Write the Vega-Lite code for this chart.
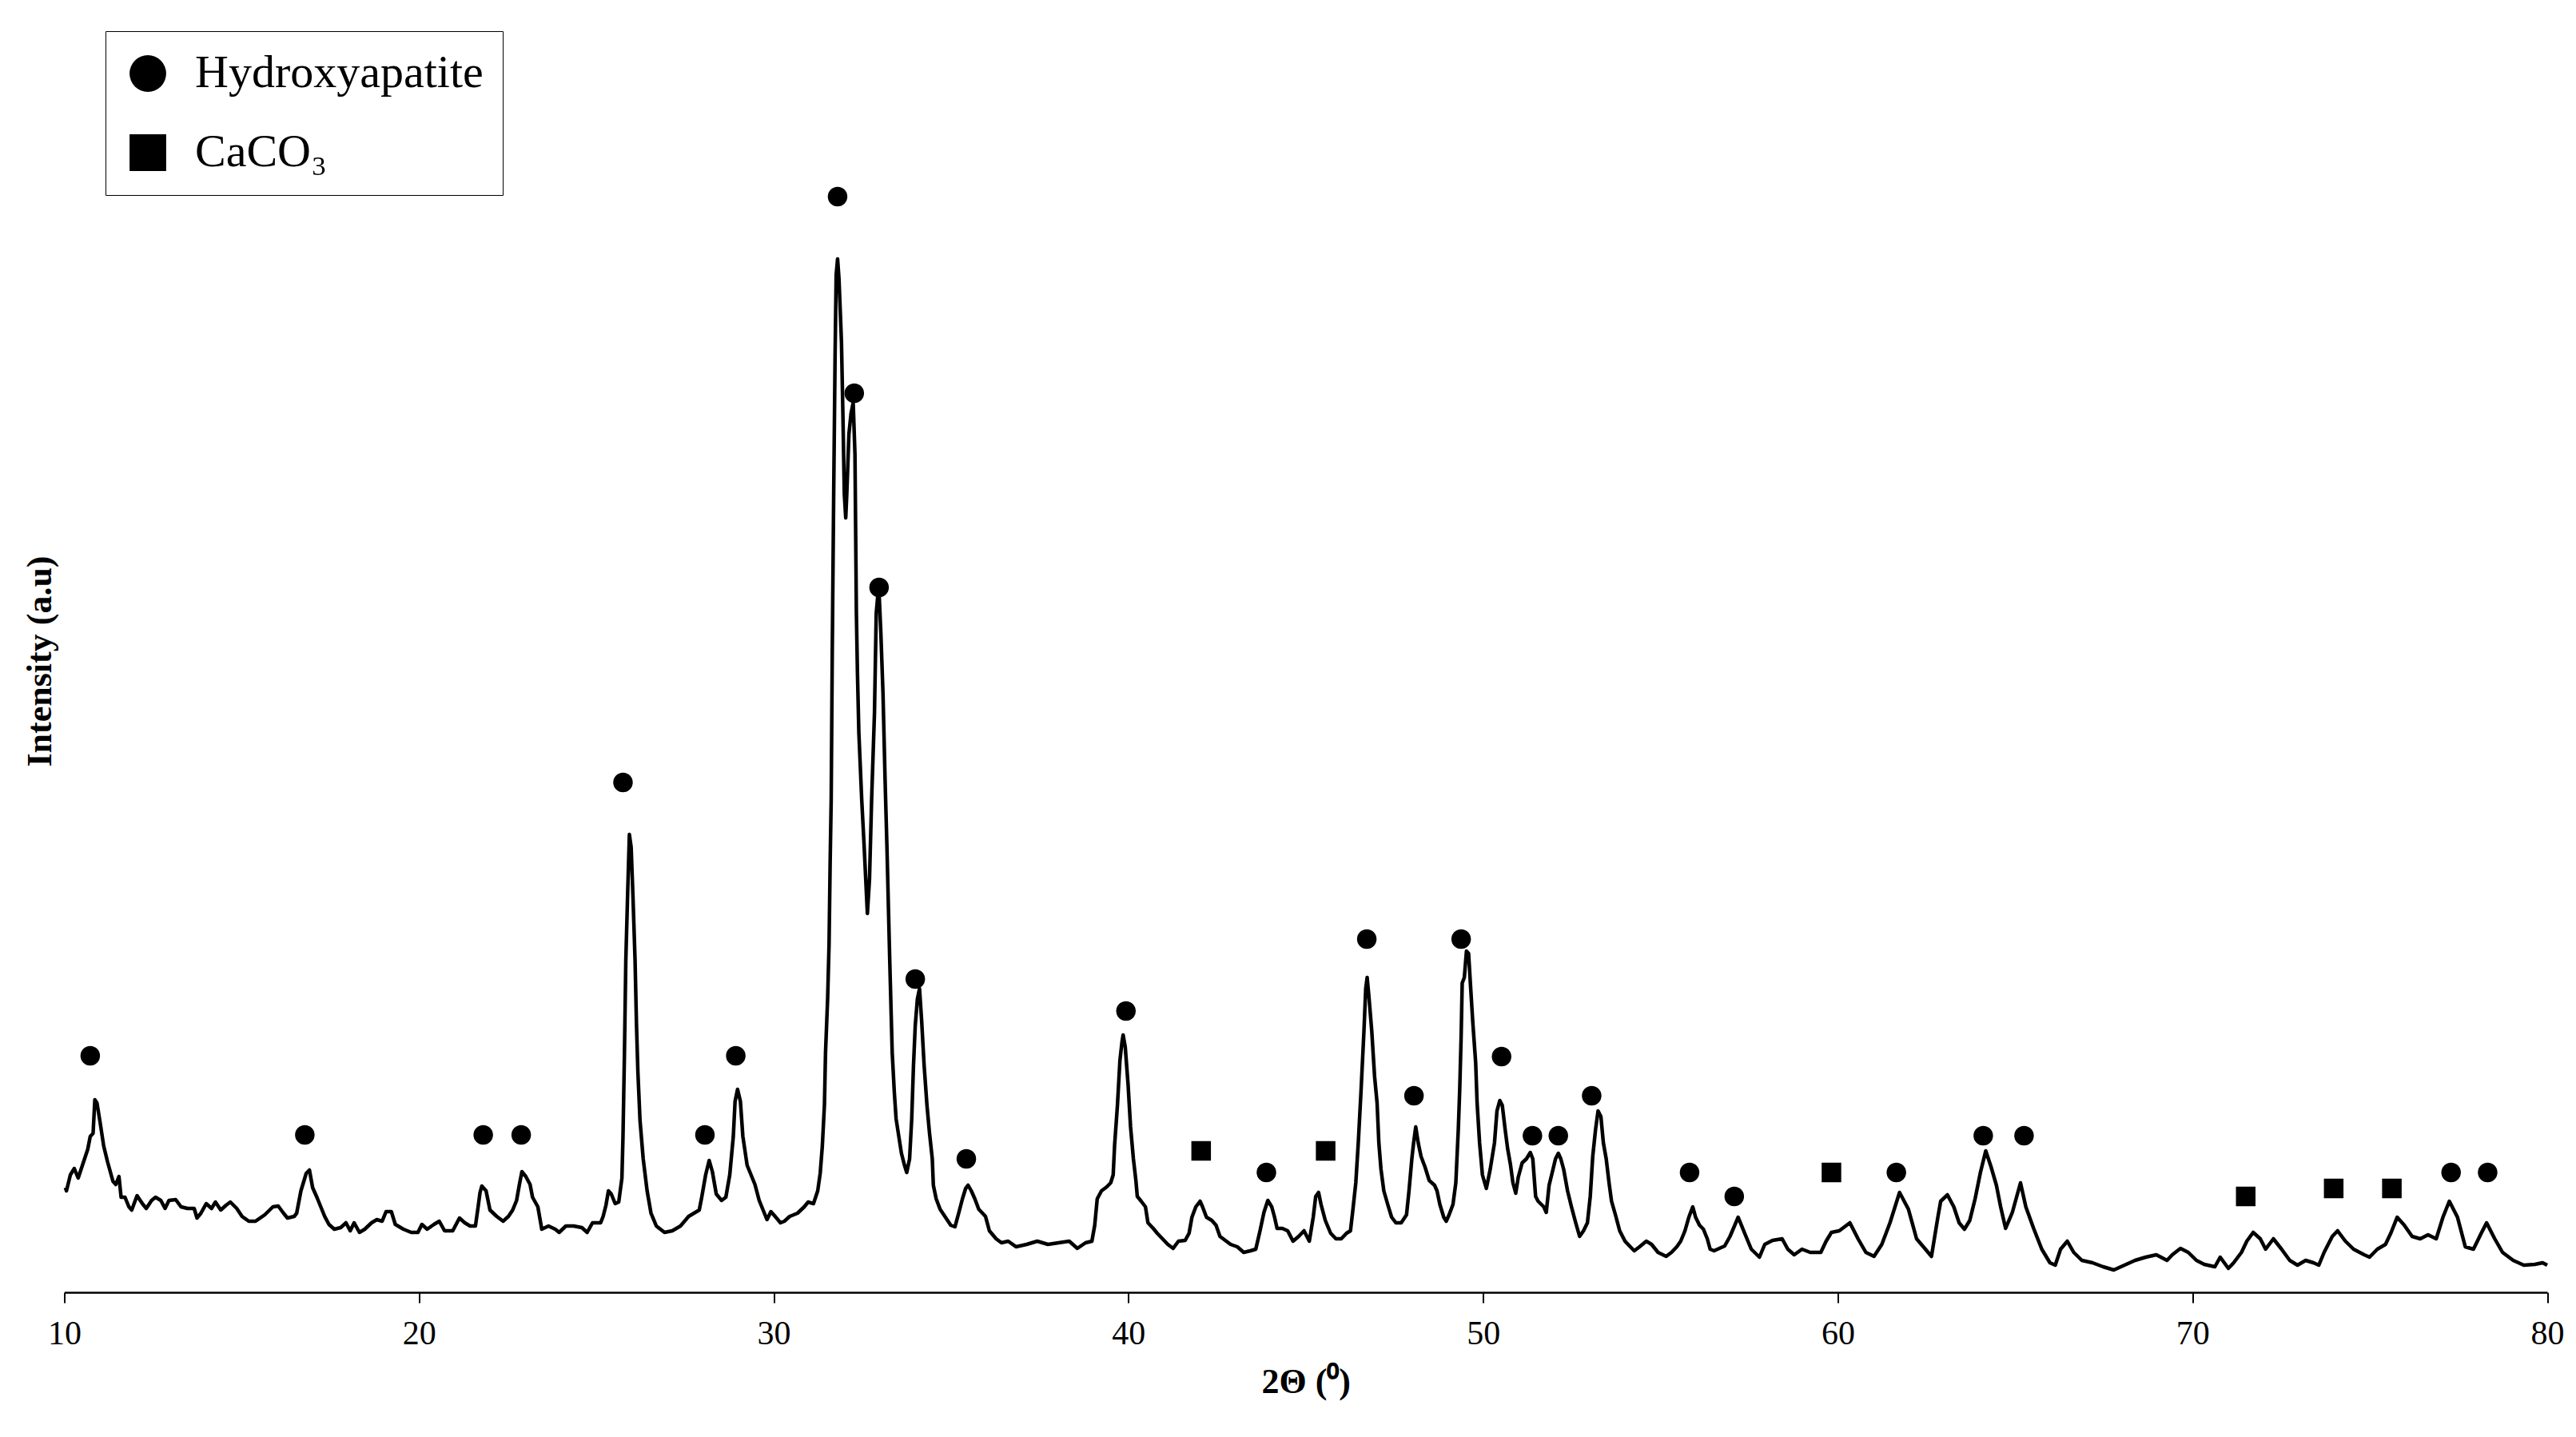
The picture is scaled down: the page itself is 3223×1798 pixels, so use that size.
{
  "$schema": "https://vega.github.io/schema/vega-lite/v6.json",
  "width": 3106.5,
  "height": 1580,
  "autosize": {"type": "none"},
  "padding": {"left": 80.5, "top": 37, "right": 36, "bottom": 181},
  "background": "white",
  "config": {"view": {"stroke": null}, "font": "Liberation Serif"},
  "datasets": {
    "xrd": [
      {"t":10.03,"i":131},{"t":10.06,"i":127},{"t":10.17,"i":147},{"t":10.28,"i":155},{"t":10.39,"i":143},{"t":10.51,"i":159},{"t":10.66,"i":179},{"t":10.73,"i":195},{"t":10.81,"i":199},{"t":10.86,"i":241},{"t":10.92,"i":237},{"t":11.00,"i":215},{"t":11.11,"i":183},{"t":11.22,"i":163},{"t":11.37,"i":139},{"t":11.45,"i":135},{"t":11.54,"i":145},{"t":11.60,"i":119},{"t":11.71,"i":119},{"t":11.82,"i":107},{"t":11.90,"i":103},{"t":12.05,"i":121},{"t":12.20,"i":111},{"t":12.31,"i":105},{"t":12.46,"i":115},{"t":12.57,"i":119},{"t":12.72,"i":115},{"t":12.84,"i":105},{"t":12.95,"i":115},{"t":13.14,"i":116},{"t":13.29,"i":107},{"t":13.47,"i":105},{"t":13.66,"i":105},{"t":13.74,"i":93},{"t":13.85,"i":99},{"t":14.00,"i":111},{"t":14.15,"i":105},{"t":14.26,"i":113},{"t":14.41,"i":103},{"t":14.56,"i":109},{"t":14.68,"i":113},{"t":14.86,"i":105},{"t":15.01,"i":95},{"t":15.20,"i":89},{"t":15.39,"i":89},{"t":15.65,"i":97},{"t":15.88,"i":107},{"t":16.03,"i":108},{"t":16.18,"i":99},{"t":16.29,"i":93},{"t":16.48,"i":95},{"t":16.55,"i":99},{"t":16.67,"i":127},{"t":16.82,"i":149},{"t":16.91,"i":153},{"t":17.00,"i":131},{"t":17.12,"i":119},{"t":17.23,"i":107},{"t":17.34,"i":95},{"t":17.46,"i":85},{"t":17.61,"i":79},{"t":17.79,"i":81},{"t":17.94,"i":87},{"t":18.06,"i":77},{"t":18.17,"i":87},{"t":18.32,"i":75},{"t":18.47,"i":79},{"t":18.66,"i":87},{"t":18.81,"i":91},{"t":18.96,"i":89},{"t":19.07,"i":101},{"t":19.22,"i":101},{"t":19.33,"i":85},{"t":19.56,"i":79},{"t":19.78,"i":75},{"t":19.97,"i":75},{"t":20.08,"i":85},{"t":20.23,"i":79},{"t":20.42,"i":85},{"t":20.57,"i":89},{"t":20.72,"i":77},{"t":20.95,"i":77},{"t":21.14,"i":93},{"t":21.29,"i":87},{"t":21.44,"i":83},{"t":21.59,"i":83},{"t":21.66,"i":105},{"t":21.72,"i":125},
      {"t":21.77,"i":133},{"t":21.89,"i":127},{"t":22.00,"i":103},{"t":22.19,"i":95},{"t":22.37,"i":89},{"t":22.52,"i":95},{"t":22.64,"i":103},{"t":22.75,"i":115},{"t":22.83,"i":135},{"t":22.90,"i":151},{"t":23.01,"i":145},{"t":23.13,"i":135},{"t":23.20,"i":119},{"t":23.35,"i":107},{"t":23.46,"i":79},{"t":23.65,"i":83},{"t":23.84,"i":79},{"t":23.95,"i":75},{"t":24.14,"i":83},{"t":24.36,"i":83},{"t":24.59,"i":81},{"t":24.74,"i":75},{"t":24.89,"i":87},{"t":25.12,"i":87},{"t":25.19,"i":95},{"t":25.27,"i":109},{"t":25.34,"i":127},{"t":25.42,"i":123},{"t":25.53,"i":111},{"t":25.63,"i":113},{"t":25.72,"i":143},{"t":25.75,"i":195},{"t":25.79,"i":296},{"t":25.83,"i":416},{"t":25.88,"i":497},{"t":25.93,"i":573},{"t":25.98,"i":557},{"t":26.03,"i":497},{"t":26.09,"i":416},{"t":26.13,"i":336},{"t":26.17,"i":276},{"t":26.23,"i":215},{"t":26.32,"i":167},{"t":26.43,"i":127},{"t":26.54,"i":99},{"t":26.69,"i":83},{"t":26.92,"i":75},{"t":27.14,"i":77},{"t":27.37,"i":83},{"t":27.60,"i":95},{"t":27.75,"i":99},{"t":27.90,"i":103},{"t":27.97,"i":119},{"t":28.08,"i":147},{"t":28.18,"i":165},{"t":28.27,"i":151},{"t":28.38,"i":123},{"t":28.53,"i":115},{"t":28.65,"i":119},{"t":28.76,"i":147},{"t":28.86,"i":195},{"t":28.91,"i":239},{"t":28.98,"i":254},{"t":29.06,"i":239},{"t":29.13,"i":195},{"t":29.25,"i":159},{"t":29.36,"i":147},{"t":29.47,"i":135},{"t":29.59,"i":115},{"t":29.70,"i":103},{"t":29.81,"i":91},{"t":29.92,"i":101},{"t":30.04,"i":95},{"t":30.19,"i":87},{"t":30.30,"i":89},{"t":30.45,"i":95},{"t":30.67,"i":99},{"t":30.86,"i":107},{"t":30.97,"i":113},{"t":31.12,"i":111},{"t":31.24,"i":127},{"t":31.31,"i":149},{"t":31.37,"i":183},{"t":31.43,"i":235},{"t":31.46,"i":300},{"t":31.52,"i":368},{"t":31.56,"i":436},{"t":31.59,"i":537},{"t":31.62,"i":617},{"t":31.65,"i":800},{"t":31.69,"i":999},{"t":31.73,"i":1173},{"t":31.76,"i":1273},{"t":31.80,"i":1293},{"t":31.84,"i":1268},{"t":31.88,"i":1223},{"t":31.91,"i":1188},{"t":31.95,"i":1099},{"t":31.99,"i":999},{"t":32.03,"i":969},{"t":32.06,"i":999},{"t":32.12,"i":1074},{"t":32.18,"i":1100},{"t":32.24,"i":1113},{"t":32.29,"i":1049},{"t":32.31,"i":949},{"t":32.33,"i":850},{"t":32.36,"i":775},{"t":32.40,"i":700},{"t":32.48,"i":617},{"t":32.55,"i":557},{"t":32.64,"i":474},{"t":32.70,"i":517},{"t":32.76,"i":617},{"t":32.84,"i":725},{"t":32.89,"i":850},{"t":32.93,"i":870},{"t":32.97,"i":875},{"t":33.02,"i":825},{"t":33.08,"i":750},{"t":33.14,"i":640},{"t":33.19,"i":560},{"t":33.27,"i":416},{"t":33.34,"i":300},{"t":33.40,"i":250},{"t":33.45,"i":217},{"t":33.53,"i":194},{"t":33.60,"i":174},{"t":33.68,"i":160},{"t":33.75,"i":150},{"t":33.83,"i":167},{"t":33.89,"i":217},{"t":33.94,"i":284},{"t":33.99,"i":334},{"t":34.05,"i":367},{"t":34.11,"i":380},{"t":34.17,"i":340},{"t":34.24,"i":284},{"t":34.32,"i":234},{"t":34.39,"i":200},{"t":34.47,"i":167},{"t":34.50,"i":134},{"t":34.58,"i":117},{"t":34.69,"i":104},{"t":34.84,"i":94},{"t":34.99,"i":84},{"t":35.11,"i":82},{"t":35.22,"i":100},{"t":35.32,"i":117},{"t":35.41,"i":130},{"t":35.48,"i":134},{"t":35.57,"i":127},{"t":35.67,"i":117},{"t":35.78,"i":104},{"t":35.97,"i":95},{"t":36.08,"i":77},{"t":36.27,"i":67},{"t":36.42,"i":62},{"t":36.61,"i":64},{"t":36.83,"i":57},{"t":37.13,"i":60},{"t":37.43,"i":64},{"t":37.73,"i":60},{"t":38.03,"i":62},{"t":38.33,"i":64},{"t":38.56,"i":55},{"t":38.79,"i":62},{"t":38.97,"i":64},{"t":39.05,"i":84},{"t":39.12,"i":117},{"t":39.24,"i":127},{"t":39.39,"i":132},{"t":39.50,"i":137},{"t":39.57,"i":147},{"t":39.61,"i":184},{"t":39.69,"i":234},{"t":39.76,"i":290},{"t":39.82,"i":314},{"t":39.85,"i":322},{"t":39.91,"i":307},{"t":39.99,"i":260},{"t":40.06,"i":207},{"t":40.14,"i":167},{"t":40.21,"i":140},{"t":40.25,"i":120},{"t":40.36,"i":114},{"t":40.48,"i":107},{"t":40.55,"i":87},{"t":40.70,"i":80},{"t":40.81,"i":74},{"t":40.96,"i":67},{"t":41.11,"i":60},{"t":41.26,"i":55},{"t":41.41,"i":64},{"t":41.60,"i":65},{"t":41.71,"i":74},{"t":41.79,"i":94},{"t":41.90,"i":107},{"t":42.02,"i":114},{"t":42.09,"i":107},{"t":42.20,"i":94},{"t":42.35,"i":90},{"t":42.47,"i":84},{"t":42.58,"i":70},{"t":42.73,"i":65},{"t":42.88,"i":60},{"t":43.07,"i":57},{"t":43.25,"i":50},{"t":43.44,"i":52},{"t":43.59,"i":54},{"t":43.71,"i":77},{"t":43.82,"i":100},{"t":43.93,"i":115},{"t":44.04,"i":107},{"t":44.12,"i":94},{"t":44.19,"i":80},{"t":44.34,"i":80},{"t":44.49,"i":77},{"t":44.64,"i":64},{"t":44.80,"i":70},{"t":44.95,"i":77},{"t":45.10,"i":64},{"t":45.21,"i":94},{"t":45.28,"i":120},{"t":45.36,"i":125},{"t":45.43,"i":110},{"t":45.55,"i":90},{"t":45.70,"i":74},{"t":45.85,"i":67},{"t":46.00,"i":67},{"t":46.15,"i":74},{"t":46.26,"i":77},{"t":46.33,"i":104},{"t":46.41,"i":137},{"t":46.48,"i":187},{"t":46.56,"i":254},{"t":46.64,"i":327},{"t":46.69,"i":380},{"t":46.73,"i":394},{"t":46.78,"i":370},{"t":46.86,"i":327},{"t":46.94,"i":270},{"t":47.01,"i":237},{"t":47.06,"i":187},{"t":47.12,"i":154},{"t":47.20,"i":127},{"t":47.31,"i":110},{"t":47.42,"i":94},{"t":47.54,"i":87},{"t":47.69,"i":87},{"t":47.84,"i":97},{"t":47.91,"i":127},{"t":47.99,"i":167},{"t":48.04,"i":187},{"t":48.10,"i":207},{"t":48.17,"i":187},{"t":48.25,"i":170},{"t":48.36,"i":157},{"t":48.48,"i":140},{"t":48.63,"i":134},{"t":48.70,"i":127},{"t":48.78,"i":110},{"t":48.89,"i":94},{"t":48.96,"i":89},{"t":49.04,"i":97},{"t":49.15,"i":110},{"t":49.23,"i":137},{"t":49.30,"i":204},{"t":49.34,"i":254},{"t":49.38,"i":320},{"t":49.41,"i":387},{"t":49.47,"i":394},{"t":49.53,"i":427},{"t":49.59,"i":424},{"t":49.64,"i":387},{"t":49.71,"i":337},{"t":49.79,"i":287},{"t":49.83,"i":237},{"t":49.90,"i":187},{"t":49.98,"i":147},{"t":50.09,"i":130},{"t":50.20,"i":154},{"t":50.32,"i":187},{"t":50.39,"i":227},{"t":50.47,"i":240},{"t":50.54,"i":234},{"t":50.62,"i":204},{"t":50.69,"i":180},{"t":50.77,"i":160},{"t":50.84,"i":137},{"t":50.92,"i":124},{"t":50.99,"i":144},{"t":51.10,"i":162},{"t":51.22,"i":167},{"t":51.33,"i":175},{"t":51.40,"i":167},{"t":51.48,"i":120},{"t":51.55,"i":114},{"t":51.71,"i":107},{"t":51.78,"i":100},{"t":51.86,"i":134},{"t":51.97,"i":154},{"t":52.04,"i":167},{"t":52.12,"i":174},{"t":52.19,"i":167},{"t":52.27,"i":154},{"t":52.38,"i":127},{"t":52.49,"i":107},{"t":52.61,"i":87},{"t":52.72,"i":70},{"t":52.83,"i":77},{"t":52.94,"i":87},{"t":53.02,"i":120},{"t":53.09,"i":170},{"t":53.17,"i":204},{"t":53.24,"i":227},{"t":53.32,"i":220},{"t":53.39,"i":187},{"t":53.47,"i":167},{"t":53.55,"i":137},{"t":53.62,"i":114},{"t":53.73,"i":97},{"t":53.85,"i":77},{"t":54.00,"i":64},{"t":54.15,"i":57},{"t":54.26,"i":52},{"t":54.41,"i":57},{"t":54.60,"i":64},{"t":54.75,"i":60},{"t":54.93,"i":50},{"t":55.16,"i":45},{"t":55.31,"i":50},{"t":55.46,"i":57},{"t":55.57,"i":64},{"t":55.69,"i":77},{"t":55.80,"i":94},{"t":55.91,"i":107},{"t":55.99,"i":94},{"t":56.10,"i":84},{"t":56.21,"i":79},{"t":56.32,"i":67},{"t":56.40,"i":54},{"t":56.51,"i":52},{"t":56.66,"i":55},{"t":56.81,"i":58},{"t":56.96,"i":70},{"t":57.19,"i":94},{"t":57.41,"i":70},{"t":57.56,"i":54},{"t":57.79,"i":44},{"t":57.94,"i":60},{"t":58.16,"i":65},{"t":58.43,"i":67},{"t":58.59,"i":54},{"t":58.77,"i":47},{"t":58.99,"i":54},{"t":59.22,"i":50},{"t":59.52,"i":50},{"t":59.67,"i":64},{"t":59.82,"i":75},{"t":60.04,"i":77},{"t":60.34,"i":87},{"t":60.57,"i":67},{"t":60.79,"i":50},{"t":61.02,"i":45},{"t":61.24,"i":60},{"t":61.47,"i":87},{"t":61.74,"i":125},{"t":61.99,"i":104},{"t":62.22,"i":67},{"t":62.45,"i":55},{"t":62.64,"i":45},{"t":62.82,"i":94},{"t":62.90,"i":114},{"t":63.09,"i":122},{"t":63.27,"i":107},{"t":63.42,"i":87},{"t":63.57,"i":79},{"t":63.72,"i":90},{"t":63.87,"i":117},{"t":64.02,"i":150},{"t":64.17,"i":177},{"t":64.32,"i":157},{"t":64.47,"i":134},{"t":64.59,"i":107},{"t":64.73,"i":80},{"t":64.92,"i":100},{"t":65.15,"i":137},{"t":65.30,"i":107},{"t":65.52,"i":80},{"t":65.75,"i":54},{"t":65.98,"i":37},{"t":66.13,"i":34},{"t":66.28,"i":54},{"t":66.47,"i":64},{"t":66.65,"i":50},{"t":66.88,"i":40},{"t":67.18,"i":37},{"t":67.48,"i":32},{"t":67.78,"i":28},{"t":68.08,"i":34},{"t":68.38,"i":40},{"t":68.68,"i":44},{"t":68.98,"i":47},{"t":69.28,"i":40},{"t":69.43,"i":47},{"t":69.66,"i":55},{"t":69.88,"i":50},{"t":70.11,"i":40},{"t":70.33,"i":35},{"t":70.63,"i":32},{"t":70.78,"i":44},{"t":71.01,"i":30},{"t":71.16,"i":37},{"t":71.38,"i":50},{"t":71.53,"i":64},{"t":71.71,"i":75},{"t":71.91,"i":67},{"t":72.06,"i":54},{"t":72.28,"i":67},{"t":72.51,"i":54},{"t":72.74,"i":40},{"t":72.96,"i":34},{"t":73.19,"i":40},{"t":73.41,"i":37},{"t":73.56,"i":34},{"t":73.71,"i":50},{"t":73.94,"i":70},{"t":74.09,"i":77},{"t":74.31,"i":64},{"t":74.54,"i":54},{"t":74.84,"i":47},{"t":74.99,"i":44},{"t":75.21,"i":54},{"t":75.44,"i":60},{"t":75.59,"i":74},{"t":75.77,"i":94},{"t":75.97,"i":84},{"t":76.19,"i":70},{"t":76.42,"i":67},{"t":76.64,"i":72},{"t":76.87,"i":67},{"t":77.06,"i":94},{"t":77.24,"i":114},{"t":77.47,"i":94},{"t":77.69,"i":57},{"t":77.92,"i":54},{"t":78.14,"i":74},{"t":78.29,"i":87},{"t":78.52,"i":67},{"t":78.74,"i":50},{"t":79.04,"i":40},{"t":79.34,"i":34},{"t":79.65,"i":35},{"t":79.87,"i":37},{"t":80.0,"i":34}
    ],
    "peaks": [
      {"t":10.73,"i":296,"phase":"Hydroxyapatite"},{"t":16.78,"i":197,"phase":"Hydroxyapatite"},{"t":21.81,"i":197,"phase":"Hydroxyapatite"},{"t":22.88,"i":197,"phase":"Hydroxyapatite"},{"t":25.75,"i":638,"phase":"Hydroxyapatite"},{"t":28.06,"i":197,"phase":"Hydroxyapatite"},{"t":28.93,"i":296,"phase":"Hydroxyapatite"},{"t":31.80,"i":1371,"phase":"Hydroxyapatite"},{"t":32.27,"i":1125,"phase":"Hydroxyapatite"},{"t":32.97,"i":882,"phase":"Hydroxyapatite"},{"t":33.99,"i":392,"phase":"Hydroxyapatite"},{"t":35.43,"i":167,"phase":"Hydroxyapatite"},{"t":39.93,"i":352,"phase":"Hydroxyapatite"},{"t":43.89,"i":150,"phase":"Hydroxyapatite"},{"t":46.72,"i":442,"phase":"Hydroxyapatite"},{"t":48.05,"i":246,"phase":"Hydroxyapatite"},{"t":49.38,"i":442,"phase":"Hydroxyapatite"},{"t":50.52,"i":295,"phase":"Hydroxyapatite"},{"t":51.39,"i":196,"phase":"Hydroxyapatite"},{"t":52.12,"i":196,"phase":"Hydroxyapatite"},{"t":53.06,"i":246,"phase":"Hydroxyapatite"},{"t":55.82,"i":150,"phase":"Hydroxyapatite"},{"t":57.08,"i":120,"phase":"Hydroxyapatite"},{"t":61.65,"i":150,"phase":"Hydroxyapatite"},{"t":64.10,"i":196,"phase":"Hydroxyapatite"},{"t":65.25,"i":196,"phase":"Hydroxyapatite"},{"t":77.29,"i":150,"phase":"Hydroxyapatite"},{"t":78.32,"i":150,"phase":"Hydroxyapatite"},
      {"t":42.05,"i":177,"phase":"CaCO₃"},{"t":45.56,"i":177,"phase":"CaCO₃"},{"t":59.82,"i":150,"phase":"CaCO₃"},{"t":71.50,"i":120,"phase":"CaCO₃"},{"t":73.98,"i":130,"phase":"CaCO₃"},{"t":75.62,"i":130,"phase":"CaCO₃"}
    ]
  },
  "encoding": {
    "x": {
      "field": "t", "type": "quantitative",
      "scale": {"domain": [10, 80], "nice": false, "zero": false},
      "axis": {
        "title": "2Θ (⁰)", "values": [10, 20, 30, 40, 50, 60, 70, 80], "format": "d", "grid": false,
        "domainColor": "black", "domainWidth": 2.5, "tickColor": "black", "tickWidth": 2, "tickSize": 13,
        "labelFont": "Liberation Serif", "labelFontSize": 42, "labelColor": "black", "labelPadding": 18, "labelFlush": false,
        "titleFont": "Liberation Serif", "titleFontSize": 44, "titleFontWeight": "bold", "titleColor": "black", "titlePadding": 18
      }
    },
    "y": {
      "field": "i", "type": "quantitative",
      "scale": {"domain": [0, 1580], "nice": false},
      "axis": {
        "title": "Intensity (a.u)", "domain": false, "ticks": false, "labels": false, "grid": false,
        "titleFont": "Liberation Serif", "titleFontSize": 44, "titleFontWeight": "bold", "titleColor": "black", "titlePadding": 8
      }
    }
  },
  "layer": [
    {
      "data": {"name": "xrd"},
      "mark": {"type": "line", "color": "black", "strokeWidth": 4.5, "strokeJoin": "round"}
    },
    {
      "data": {"name": "peaks"},
      "mark": {"type": "point", "filled": true, "color": "black", "opacity": 1, "size": 600},
      "encoding": {
        "shape": {
          "field": "phase", "type": "nominal",
          "scale": {"domain": ["Hydroxyapatite", "CaCO₃"], "range": ["circle", "square"]},
          "legend": {
            "orient": "none", "legendX": 51.5, "legendY": 2, "title": null,
            "symbolSize": 2100, "symbolFillColor": "black", "symbolStrokeColor": "black", "symbolStrokeWidth": 0,
            "labelFont": "Liberation Serif", "labelFontSize": 58, "labelColor": "black", "labelOffset": 30, "labelLimit": 2000,
            "labelExpr": "datum.label + '\u00a0\u00a0\u00a0\u00a0'",
            "rowPadding": 41, "padding": 24, "strokeColor": "black", "fillColor": "white",
            "encode": {"legend": {"update": {"strokeWidth": {"value": 2}}}}
          }
        }
      }
    }
  ]
}
